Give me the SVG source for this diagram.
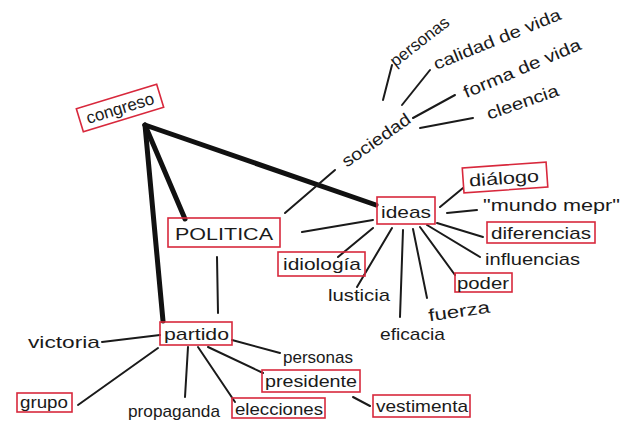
<svg xmlns="http://www.w3.org/2000/svg" width="623" height="426" viewBox="0 0 623 426">
<style>
text{font-family:"Liberation Sans","DejaVu Sans",sans-serif;font-size:17px;fill:#1a1a1a}
.box{fill:none;stroke:#d8283c;stroke-width:1.6}
.ln{stroke:#1a1a1a;stroke-width:2;fill:none;stroke-linecap:round}
.th{stroke:#111;stroke-width:5;fill:none;stroke-linecap:round}
</style>
<rect width="623" height="426" fill="#fff"/>
<g id="connectors">
<path class="th" d="M145 125 L376 205"/>
<path class="th" d="M145 125 L185 219"/>
<path class="th" d="M145 125 L163 321"/>
<path class="ln" d="M285 213 L335 170"/>
<path class="ln" d="M383 100 L392 65"/>
<path class="ln" d="M402 105 L430 70"/>
<path class="ln" d="M413 118 L455 95"/>
<path class="ln" d="M420 128 L473 118"/>
<path class="ln" d="M302 232 L373 220"/>
<path class="ln" d="M217 257 L218 313"/>
<path class="ln" d="M440 207 L463 188"/>
<path class="ln" d="M447 213 L477 210"/>
<path class="ln" d="M437 223 L483 237"/>
<path class="ln" d="M427 225 L480 257"/>
<path class="ln" d="M420 227 L455 275"/>
<path class="ln" d="M413 229 L427 298"/>
<path class="ln" d="M403 230 L400 317"/>
<path class="ln" d="M392 228 L357 287"/>
<path class="ln" d="M373 228 L338 257"/>
<path class="ln" d="M102 342 L160 335"/>
<path class="ln" d="M78 405 L158 348"/>
<path class="ln" d="M188 347 L185 397"/>
<path class="ln" d="M198 347 L235 402"/>
<path class="ln" d="M208 347 L263 373"/>
<path class="ln" d="M232 340 L280 353"/>
<path class="ln" d="M353 397 L370 406"/>
</g>
<g id="congreso" transform="rotate(-17 120 108)">
<rect class="box" x="78" y="96" width="84" height="24"/>
<text x="85" y="114" textLength="70" lengthAdjust="spacingAndGlyphs">congreso</text>
</g>
<g id="politica">
<rect class="box" x="168" y="218" width="112" height="29"/>
<text x="175" y="240" font-size="20" textLength="98" lengthAdjust="spacingAndGlyphs">POLITICA</text>
</g>
<g id="sociedad"><text x="336" y="146" textLength="80" lengthAdjust="spacingAndGlyphs" transform="rotate(-35 376 140)">sociedad</text></g>
<g id="personas-soc"><text x="385" y="47" textLength="70" lengthAdjust="spacingAndGlyphs" transform="rotate(-38 420 42)">personas</text></g>
<g id="calidad"><text x="429" y="45" textLength="136" lengthAdjust="spacingAndGlyphs" transform="rotate(-22 497 39)">calidad de vida</text></g>
<g id="forma"><text x="459" y="74" textLength="126" lengthAdjust="spacingAndGlyphs" transform="rotate(-23 522 68)">forma de vida</text></g>
<g id="cleencia"><text x="485" y="108" textLength="75" lengthAdjust="spacingAndGlyphs" transform="rotate(-19 522 102)">cleencia</text></g>
<g id="ideas">
<rect class="box" x="377" y="197" width="58" height="27"/>
<text x="381" y="218" textLength="50" lengthAdjust="spacingAndGlyphs">ideas</text>
</g>
<g id="dialogo" transform="rotate(-4 505 177)">
<rect class="box" x="463" y="165" width="84" height="25"/>
<text x="469" y="184" textLength="70" lengthAdjust="spacingAndGlyphs">diálogo</text>
</g>
<g id="mundo"><text x="483" y="211" textLength="137" lengthAdjust="spacingAndGlyphs">"mundo mepr"</text></g>
<g id="diferencias">
<rect class="box" x="487" y="222" width="108" height="21"/>
<text x="491" y="239" textLength="100" lengthAdjust="spacingAndGlyphs">diferencias</text>
</g>
<g id="influencias"><text x="485" y="265" textLength="95" lengthAdjust="spacingAndGlyphs">influencias</text></g>
<g id="poder">
<rect class="box" x="455" y="273" width="57" height="19"/>
<text x="457" y="289" textLength="52" lengthAdjust="spacingAndGlyphs">poder</text>
</g>
<g id="fuerza"><text x="428" y="317" textLength="62" lengthAdjust="spacingAndGlyphs" transform="rotate(-8 459 311)">fuerza</text></g>
<g id="eficacia"><text x="380" y="340" textLength="65" lengthAdjust="spacingAndGlyphs">eficacia</text></g>
<g id="justicia"><text x="328" y="301" textLength="62" lengthAdjust="spacingAndGlyphs">lusticia</text></g>
<g id="idiologia">
<rect class="box" x="278" y="252" width="87" height="24"/>
<text x="283" y="270" textLength="78" lengthAdjust="spacingAndGlyphs">idiología</text>
</g>
<g id="partido">
<rect class="box" x="160" y="322" width="72" height="23"/>
<text x="164" y="340" textLength="65" lengthAdjust="spacingAndGlyphs">partido</text>
</g>
<g id="victoria"><text x="28" y="348" textLength="72" lengthAdjust="spacingAndGlyphs">victoria</text></g>
<g id="grupo">
<rect class="box" x="17" y="393" width="55" height="19"/>
<text x="20" y="408" textLength="48" lengthAdjust="spacingAndGlyphs">grupo</text>
</g>
<g id="propaganda"><text x="128" y="417" textLength="92" lengthAdjust="spacingAndGlyphs">propaganda</text></g>
<g id="elecciones">
<rect class="box" x="232" y="398" width="93" height="20"/>
<text x="235" y="415" textLength="88" lengthAdjust="spacingAndGlyphs">elecciones</text>
</g>
<g id="presidente">
<rect class="box" x="262" y="370" width="98" height="22"/>
<text x="265" y="387" textLength="92" lengthAdjust="spacingAndGlyphs">presidente</text>
</g>
<g id="personas-par"><text x="283" y="363" textLength="70" lengthAdjust="spacingAndGlyphs">personas</text></g>
<g id="vestimenta">
<rect class="box" x="373" y="395" width="97" height="22"/>
<text x="376" y="412" textLength="92" lengthAdjust="spacingAndGlyphs">vestimenta</text>
</g>
</svg>
